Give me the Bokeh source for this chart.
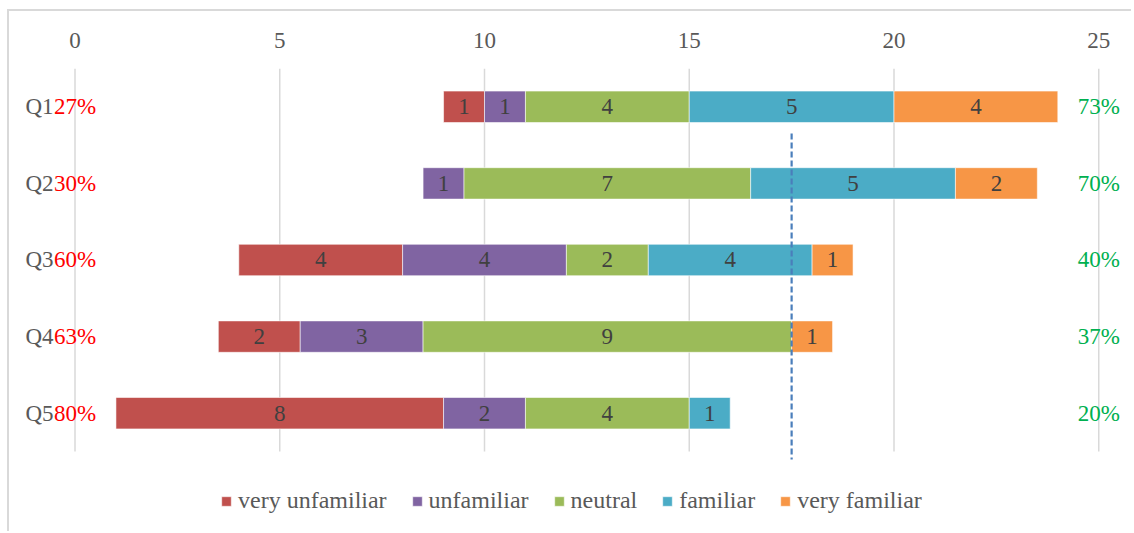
from bokeh.plotting import figure
from bokeh.models import Range1d, FixedTicker, Legend, LegendItem, ColumnDataSource
from bokeh.core.properties import value
from bokeh.embed import file_html
from bokeh.resources import INLINE
import numpy as np

# ---------------- data ----------------
questions = ["Q1", "Q2", "Q3", "Q4", "Q5"]
offsets = [9, 8.5, 4, 3.5, 1]          # invisible leading offset of each bar
very_unfamiliar = [1, 0, 4, 2, 8]
unfamiliar = [1, 1, 4, 3, 2]
neutral = [4, 7, 2, 9, 4]
familiar = [5, 5, 4, 0, 1]
very_familiar = [4, 2, 1, 1, 0]
left_pct = ["27%", "30%", "60%", "63%", "80%"]
right_pct = ["73%", "70%", "40%", "37%", "20%"]
x_ticks = [0, 5, 10, 15, 20, 25]
reference_value = 17.5
series_names = ["very unfamiliar", "unfamiliar", "neutral", "familiar", "very familiar"]
series_values = [very_unfamiliar, unfamiliar, neutral, familiar, very_familiar]
colors = ["#C0504D", "#8064A2", "#9BBB59", "#4BACC6", "#F79646"]

FONT = "Liberation Serif"
ypos = list(range(1, len(questions) + 1))

p = figure(width=1124, height=522, output_backend="svg", toolbar_location=None,
           x_range=Range1d(-0.3541, 25.6532), y_range=Range1d(6.5705, 0.5),
           x_axis_location="above",
           min_border_left=51, min_border_right=8, min_border_top=57, min_border_bottom=0)
p.styles = {"margin-left": "7px", "margin-top": "9px",
            "border-left": "2px solid #d9d9d9", "border-top": "2px solid #d9d9d9"}
p.outline_line_color = None
p.xgrid.visible = False
p.ygrid.visible = False
p.background_fill_color = "white"
p.border_fill_color = "white"

for ax in (p.xaxis[0], p.yaxis[0]):
    ax.axis_line_color = None
    ax.major_tick_line_color = None
    ax.minor_tick_line_color = None
    ax.major_label_text_font = FONT
    ax.major_label_text_font_size = "23px"
    ax.major_label_text_color = "#595959"
p.xaxis[0].ticker = FixedTicker(ticks=x_ticks)
p.xaxis[0].major_label_standoff = 15
p.yaxis[0].ticker = FixedTicker(ticks=ypos)
p.yaxis[0].major_label_overrides = {y: q for y, q in zip(ypos, questions)}
p.yaxis[0].major_label_standoff = 1

# vertical gridlines (span the category band)
n = len(x_ticks)
p.segment(x0=x_ticks, x1=x_ticks, y0=[0.5] * n, y1=[len(questions) + 0.5] * n,
          line_color="#d9d9d9", line_width=1.5)

# stacked bars
left = np.array(offsets, dtype=float)
items = []
for name, vals, col in zip(series_names, series_values, colors):
    v = np.array(vals, dtype=float)
    right = left + v
    keep = v > 0
    src = ColumnDataSource(dict(
        y=np.array(ypos)[keep], left=left[keep], right=right[keep],
        mid=((left + right) / 2)[keep],
        lab=[str(int(x)) for x in v[keep]]))
    r = p.hbar(y="y", left="left", right="right", height=0.41, source=src,
               fill_color=col, line_color="white", line_width=0.8, line_alpha=0.7)
    p.text(x="mid", y="y", text="lab", source=src, text_align="center",
           text_baseline="middle", text_font=value(FONT), text_font_size="23px",
           text_color="#404040")
    items.append(LegendItem(label=name, renderers=[r]))
    left = right

# reference dashed line
p.segment(x0=[reference_value], x1=[reference_value], y0=[1.349], y1=[5.604],
          line_color="#4A7EBB", line_width=2.2, line_dash="6 3")

# percentage labels
p.text(x=[x_ticks[0]] * len(questions), y=ypos, text=left_pct, text_align="center",
       text_baseline="middle", text_font=value(FONT), text_font_size="23px",
       text_color="#FF0000", level="overlay")
p.text(x=[x_ticks[-1]] * len(questions), y=ypos, text=right_pct, text_align="center",
       text_baseline="middle", text_font=value(FONT), text_font_size="23px",
       text_color="#00B050", level="overlay")

legend = Legend(items=items, orientation="horizontal", location=(160, 19),
                glyph_width=12, glyph_height=12, label_standoff=6, spacing=24,
                label_text_font=FONT, label_text_font_size="24px",
                label_text_color="#595959", border_line_color=None,
                background_fill_alpha=0, margin=0, padding=0)
p.add_layout(legend, "center")

open("out.html", "w").write(file_html(p, INLINE))
